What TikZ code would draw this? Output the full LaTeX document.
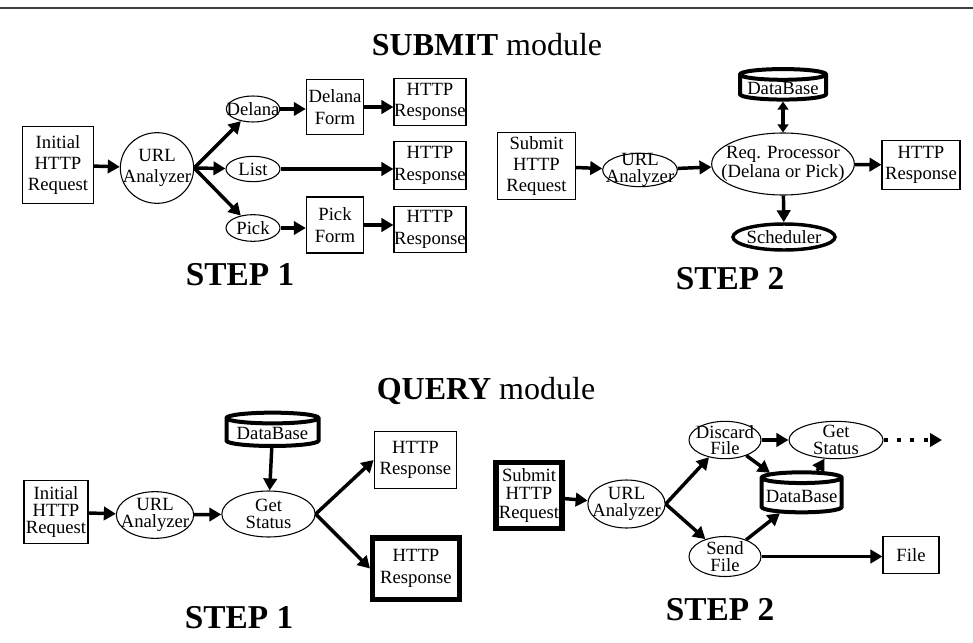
\documentclass[tikz,border=0pt]{standalone}
\usepackage{fontspec}
\setmainfont{Liberation Serif}
\usetikzlibrary{shapes.geometric,arrows.meta}
\begin{document}
\begin{tikzpicture}[x=0.75pt, y=-0.75pt, >={Triangle[length=9pt,width=10pt]},
    font=\fontsize{14}{16}\selectfont,
    box/.style={draw, line width=0.8pt, align=center, inner sep=0pt},
    oval/.style 2 args={ellipse, draw, line width=0.8pt, inner sep=0pt,
      label={[align=center, inner sep=0pt, #1]center:#2}},
    tight/.style={font=\fontsize{14}{12.5}\selectfont},
    dbase/.style={cylinder, shape border rotate=90, aspect=0.15, draw, line width=3pt, inner sep=0pt},
    flow/.style={->, line width=2.6pt},
    title/.style={font=\fontsize{24}{28}\selectfont},
    steplabel/.style={font=\bfseries\fontsize{25}{28}\selectfont}]
\useasboundingbox (0,0) rectangle (973,642);
\draw[line width=1.5pt, black!75] (0,8) -- (973,8);

% SUBMIT module
\node[title] (subtitle) at (487,45) {\textbf{SUBMIT} module};

% step 1
\node[box, minimum width=53pt, minimum height=58pt] (init1) at (58,165) {Initial\\HTTP\\Request};
\node[oval={}{URL\\Analyzer}, minimum width=55pt, minimum height=53pt] (url1) at (157,168) {};
\node[oval={}{Delana}, minimum width=40pt, minimum height=19.5pt] (del) at (253,109) {};
\node[oval={}{List}, minimum width=40.5pt, minimum height=19pt] (list) at (253,169) {};
\node[oval={}{Pick}, minimum width=40.5pt, minimum height=20pt] (pick) at (253,228) {};
\node[box, minimum width=43pt, minimum height=41pt] (delform) at (335,107) {Delana\\Form};
\node[box, minimum width=43pt, minimum height=42pt] (pickform) at (335,225) {Pick\\Form};
\node[box, minimum width=54pt, minimum height=35pt] (resp1a) at (430,102) {HTTP\\Response};
\node[box, minimum width=54pt, minimum height=36pt] (resp1b) at (430,165.5) {HTTP\\Response};
\node[box, minimum width=54pt, minimum height=35pt] (resp1c) at (430,229.5) {HTTP\\Response};
\node[steplabel] (step1a) at (240,275) {STEP 1};

\draw[flow] (init1) -- (url1);
\draw[flow] (url1.east) -- (del);
\draw[flow] (url1.east) -- (list);
\draw[flow] (url1.east) -- (pick);
\draw[flow] (del) -- (del -| delform.west);
\draw[flow] (delform) -- (delform -| resp1a.west);
\draw[flow] (list) -- (list -| resp1b.west);
\draw[flow] (pick) -- (pick -| pickform.west);
\draw[flow] (pickform) -- (pickform -| resp1c.west);

% step 2
\node[box, minimum width=58pt, minimum height=50pt] (sub2) at (536.5,166) {Submit\\HTTP\\Request};
\node[oval={tight}{URL\\Analyzer}, minimum width=56pt, minimum height=25pt] (url2) at (640,170) {};
\node[oval={font=\fontsize{14}{14}\selectfont}{Req. Processor\\(Delana or Pick)}, minimum width=107pt, minimum height=46.5pt] (req) at (783,164) {};
\node[box, minimum width=58.5pt, minimum height=37pt] (resp2) at (921,165) {HTTP\\Response};
\node[oval={}{Scheduler}, line width=2.6pt, minimum width=76.5pt, minimum height=19.5pt] (sched) at (784,237) {};
\node[dbase, minimum width=64.5pt, minimum height=21pt] (db2) at (783,88) {DataBase};
\node[steplabel] (step2a) at (730,279) {STEP 2};

\draw[flow] (sub2) -- (url2);
\draw[flow] (url2) -- (req);
\draw[flow] (req) -- (resp2);
\draw[line width=2.6pt, {Triangle[length=6pt,width=8pt]}-{Triangle[length=6pt,width=8pt]}] (db2) -- (req);
\draw[flow] (req) -- (sched);

% QUERY module
\node[title] (qtitle) at (486,391) {\textbf{QUERY} module};

% step 1
\node[box, font=\fontsize{14}{13}\selectfont, minimum width=48pt, minimum height=47pt] (init3) at (56,512) {Initial\\HTTP\\Request};
\node[oval={tight}{URL\\Analyzer}, minimum width=58pt, minimum height=35pt] (url3) at (155,515) {};
\node[oval={tight}{Get\\Status}, minimum width=70pt, minimum height=34.5pt] (get3) at (268.5,514) {};
\node[dbase, minimum width=69pt, minimum height=25pt] (db3) at (272.5,433) {DataBase};
\node[box, minimum width=62pt, minimum height=43pt] (resp3a) at (415.5,460) {HTTP\\Response};
\node[box, line width=4pt, minimum width=65pt, minimum height=46pt] (resp3b) at (416,568.5) {HTTP\\Response};
\node[steplabel] (step1b) at (239,618) {STEP 1};

\draw[flow] (init3) -- (url3);
\draw[flow] (url3) -- (get3);
\draw[flow] (db3) -- (get3);
\draw[flow] (get3.east) -- (resp3a.west);
\draw[flow] (get3.east) -- (resp3b.west);

% step 2
\node[box, line width=4pt, font=\fontsize{14}{14}\selectfont, minimum width=49.5pt, minimum height=49.5pt] (sub4) at (529,495.5) {Submit\\HTTP\\Request};
\node[oval={tight}{URL\\Analyzer}, minimum width=58pt, minimum height=36pt] (url4) at (626.5,504) {};
\node[oval={tight}{Discard\\File}, minimum width=54pt, minimum height=28pt] (disc) at (725,440) {};
\node[oval={tight}{Get\\Status}, minimum width=70.5pt, minimum height=28pt] (get4) at (836,440) {};
\node[dbase, minimum width=60pt, minimum height=30pt] (db4) at (801.7,496) {DataBase};
\node[oval={tight}{Send\\File}, minimum width=54pt, minimum height=30pt] (send) at (725,556.5) {};
\node[box, minimum width=42pt, minimum height=28pt] (file) at (911,555) {File};
\coordinate (dotend) at (942,440);
\node[steplabel] (step2b) at (720,610) {STEP 2};

\draw[flow] (sub4) -- (url4);
\draw[flow] (url4.east) -- (disc);
\draw[flow] (url4.east) -- (send);
\draw[flow] (disc) -- (get4);
\draw[flow] (disc) -- (db4);
\draw[flow] (db4) -- (get4);
\draw[flow] (send) -- (db4);
\draw[flow] (send) -- (send -| file.west);
\draw[line width=3pt, dash pattern=on 3pt off 7pt, -{Triangle[length=9pt,width=10pt]}] (get4) -- (dotend);
\end{tikzpicture}
\end{document}
